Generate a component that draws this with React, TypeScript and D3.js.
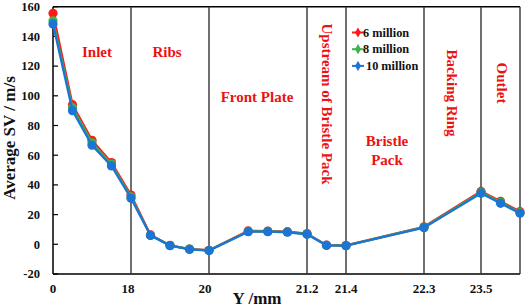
import React from "react";
import * as d3 from "d3";

const xValues = [0, 4.5, 9, 13.5, 18, 18.5, 19, 19.5, 20, 20.48, 20.72, 20.96, 21.2, 21.3, 21.4, 22.3, 23.5, 23.75, 24];
const series6 = [155.6, 94, 70, 55, 33.2, 6.3, -0.7, -3.2, -4, 9, 8.9, 8.5, 7.2, -0.6, -0.8, 11.8, 35.6, 29, 22];
const series8 = [150.5, 92, 68.3, 54, 32, 6.1, -0.8, -3.3, -4.1, 8.7, 8.7, 8.3, 6.9, -0.7, -0.9, 11.5, 35, 28.3, 21.4];
const series10 = [148.4, 90, 66.7, 52.8, 31, 6, -0.9, -3.4, -4.2, 8.5, 8.5, 8.1, 6.7, -0.7, -0.9, 11.2, 34.4, 27.6, 20.9];

const xBreaks = [0, 18, 20, 21.2, 21.4, 22.3, 23.5, 24];
const xTickLabels = ["0", "18", "20", "21.2", "21.4", "22.3", "23.5"];
const yTicks = [-20, 0, 20, 40, 60, 80, 100, 120, 140, 160];
const seriesNames = ["6 million", "8 million", "10 million"];
const colors = ["#ff1a1a", "#3cb34a", "#1c74d4"];

const FONT = "'Liberation Serif', 'Times New Roman', serif";
const RED = "#ee1111";

export default function App() {
  const x = d3.scaleLinear().domain(xBreaks).range([53, 131, 209, 307, 346, 424, 481, 520]);
  const y = d3.scaleLinear().domain([-20, 160]).range([274, 6.7]);
  const allSeries = [series6, series8, series10];
  const line = d3
    .line<number>()
    .x((_, i) => x(xValues[i]))
    .y((d) => y(d));

  return (
    <svg width={526} height={307} style={{ position: "absolute", left: 0, top: 0 }} fontFamily={FONT} fontWeight="bold">
      <rect x={0} y={0} width={526} height={307} fill="#fff" />
      {/* frame */}
      <line x1={x(0)} x2={x(24)} y1={y(160)} y2={y(160)} stroke="#000" strokeWidth={1.5} />
      <line x1={x(0)} x2={x(24)} y1={y(-20)} y2={y(-20)} stroke="#000" strokeWidth={1.5} />
      <line x1={x(0)} x2={x(0)} y1={y(160)} y2={y(-20)} stroke="#000" strokeWidth={1.5} />
      {xBreaks.slice(1).map((b) => (
        <line key={b} x1={x(b)} x2={x(b)} y1={y(160)} y2={y(-20)} stroke="#333" strokeWidth={1.4} />
      ))}
      {/* y ticks */}
      {yTicks.map((t) => (
        <g key={t}>
          <line x1={x(0)} x2={x(0) + 5} y1={y(t)} y2={y(t)} stroke="#000" strokeWidth={1.2} />
          <text x={40} y={y(t)} dy="0.35em" textAnchor="end" fontSize={12.5} fill="#111">
            {t}
          </text>
        </g>
      ))}
      {/* x tick labels */}
      {xTickLabels.map((l, i) => (
        <text key={l} x={x(xBreaks[i]) - (i === 1 ? 3 : i === 2 ? 4 : 0)} y={292.5} textAnchor="middle" fontSize={13} fill="#111">
          {l}
        </text>
      ))}
      {/* axis titles */}
      <text x={257} y={304} textAnchor="middle" fontSize={17} fill="#111">
        Y /mm
      </text>
      <text transform={`translate(15,138) rotate(-90)`} textAnchor="middle" fontSize={17} fill="#111">
        Average SV / m/s
      </text>
      {/* region labels */}
      <g fill={RED} fontSize={15}>
        <text x={97} y={57} textAnchor="middle">Inlet</text>
        <text x={167} y={57} textAnchor="middle">Ribs</text>
        <text x={257} y={101.5} textAnchor="middle">Front Plate</text>
        <text transform="translate(321.5,104) rotate(90)" textAnchor="middle">Upstream of Bristle Pack</text>
        <text x={387} y={146} textAnchor="middle">Bristle</text>
        <text x={387} y={164.5} textAnchor="middle">Pack</text>
        <text transform="translate(447,93) rotate(90)" textAnchor="middle">Backing Ring</text>
        <text transform="translate(496.5,83) rotate(90)" textAnchor="middle">Outlet</text>
      </g>
      {/* series */}
      {allSeries.map((s, k) => (
        <g key={k}>
          <path d={line(s) || ""} fill="none" stroke={colors[k]} strokeWidth={2.3} />
          {s.map((v, i) => (
            <circle key={i} cx={x(xValues[i])} cy={y(v)} r={4.6} fill={colors[k]} />
          ))}
        </g>
      ))}
      {/* legend */}
      {seriesNames.map((n, k) => (
        <g key={n}>
          <line x1={352} x2={364} y1={32.5 + k * 16.7} y2={32.5 + k * 16.7} stroke={colors[k]} strokeWidth={2} />
          <path d={d3.symbol().type(d3.symbolDiamond).size(30)() || ""} transform={`translate(358,${32.5 + k * 16.7})`} fill={colors[k]} />
          <text x={k === 2 ? 366 : 363} y={36.5 + k * 16.7} fontSize={12.3} fill="#111">
            {n}
          </text>
        </g>
      ))}
    </svg>
  );
}
